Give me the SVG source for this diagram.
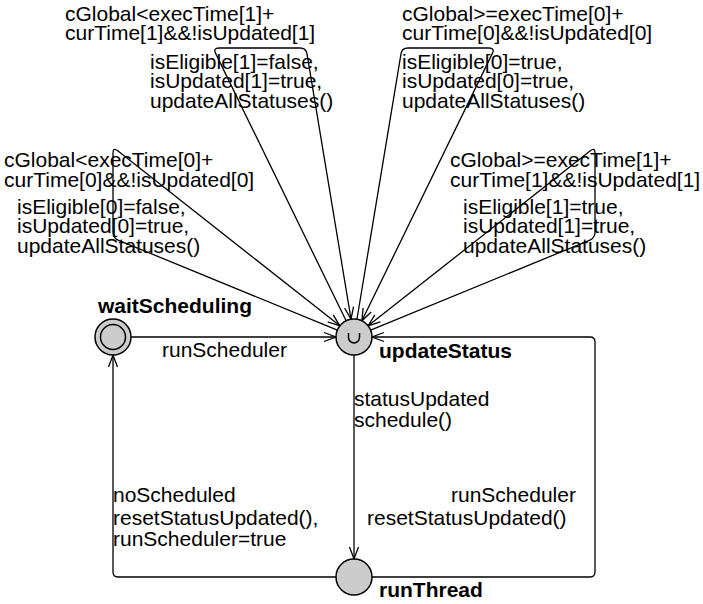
<svg xmlns="http://www.w3.org/2000/svg" width="703" height="604" viewBox="0 0 703 604">
<style>
  text { font-family: "Liberation Sans", Arial, Helvetica, sans-serif; font-size: 21px; fill: #000; }
  .name { font-weight: bold; }
  .edge { fill: none; stroke: #000; stroke-width: 1.3; marker-end: url(#arr); }
  .loc { fill: #cccccc; stroke: #000; stroke-width: 1.5; }
</style>
<defs>
  <marker id="arr" markerUnits="userSpaceOnUse" markerWidth="16" markerHeight="12" refX="13" refY="6" orient="auto" overflow="visible">
    <path d="M1,1.5 L13,6 L1,10.5" fill="none" stroke="#000" stroke-width="1.3"/>
  </marker>
</defs>
<rect width="703" height="604" fill="#fff"/>
<g id="connectors">
  <path class="edge" d="M131,337 L336,337"/>
  <path class="edge" d="M354,355 L354,559"/>
  <path class="edge" d="M336,577 L118,577 Q113,577 113,572 L113,355"/>
  <path class="edge" d="M372,577 L590,577 Q595,577 595,572 L595,342 Q595,337 590,337 L372,337"/>
  <path class="edge" d="M346.1,320.8 L215.6,53.4 Q213,48 219,48 L300,48 Q306,48 307,53.9 L351.05,319.24"/>
  <path class="edge" d="M356.95,319.24 L401,53.9 Q402,48 408,48 L489,48 Q495,48 492.4,53.4 L361.89,320.82"/>
  <path class="edge" d="M337.35,330.16 L118.55,240.28 Q113,238 113,232 L113,153 Q113,147 117.71,150.71 L339.86,325.86"/>
  <path class="edge" d="M370.65,330.16 L589.45,240.28 Q595,238 595,232 L595,153 Q595,147 590.29,150.71 L368.14,325.86"/>
</g>
<g id="labels">
  <text><tspan x="65" y="20.5">cGlobal&lt;execTime[1]+</tspan><tspan x="65" y="40">curTime[1]&amp;&amp;!isUpdated[1]</tspan><tspan x="150" y="68.5">isEligible[1]=false,</tspan><tspan x="150" y="88">isUpdated[1]=true,</tspan><tspan x="150" y="107.5">updateAllStatuses()</tspan></text>

  <text><tspan x="402" y="20.5">cGlobal&gt;=execTime[0]+</tspan><tspan x="402" y="40">curTime[0]&amp;&amp;!isUpdated[0]</tspan><tspan x="402" y="68.5">isEligible[0]=true,</tspan><tspan x="402" y="88">isUpdated[0]=true,</tspan><tspan x="402" y="107.5">updateAllStatuses()</tspan></text>

  <text><tspan x="4" y="167">cGlobal&lt;execTime[0]+</tspan><tspan x="4" y="186.5">curTime[0]&amp;&amp;!isUpdated[0]</tspan><tspan x="17" y="213.5">isEligible[0]=false,</tspan><tspan x="17" y="233">isUpdated[0]=true,</tspan><tspan x="17" y="252.5">updateAllStatuses()</tspan></text>

  <text><tspan x="450" y="167">cGlobal&gt;=execTime[1]+</tspan><tspan x="450" y="186.5">curTime[1]&amp;&amp;!isUpdated[1]</tspan><tspan x="463" y="213.5">isEligible[1]=true,</tspan><tspan x="463" y="233">isUpdated[1]=true,</tspan><tspan x="463" y="252.5">updateAllStatuses()</tspan></text>

  <text x="162" y="357">runScheduler</text>
  <text><tspan x="354" y="406">statusUpdated</tspan><tspan x="354" y="427">schedule()</tspan></text>
  <text><tspan x="113" y="502">noScheduled</tspan><tspan x="113" y="525">resetStatusUpdated(),</tspan><tspan x="113" y="545.5">runScheduler=true</tspan></text>
  <text><tspan x="451" y="502">runScheduler</tspan><tspan x="367" y="525">resetStatusUpdated()</tspan></text>
</g>
<g id="waitScheduling">
  <circle class="loc" cx="113" cy="337" r="18"/>
  <circle cx="113" cy="337" r="12.5" fill="none" stroke="#000" stroke-width="1.5"/>
  <text class="name" x="98" y="313">waitScheduling</text>
</g>
<g id="updateStatus">
  <circle class="loc" cx="354" cy="337" r="18"/>
  <path d="M348.5,333 V337.5 A5.5,5.5 0 0 0 359.5,337.5 V333" fill="none" stroke="#000" stroke-width="1.5"/>
  <text class="name" x="379" y="358">updateStatus</text>
</g>
<g id="runThread">
  <circle class="loc" cx="354" cy="577" r="18"/>
  <text class="name" x="379" y="597">runThread</text>
</g>
</svg>
